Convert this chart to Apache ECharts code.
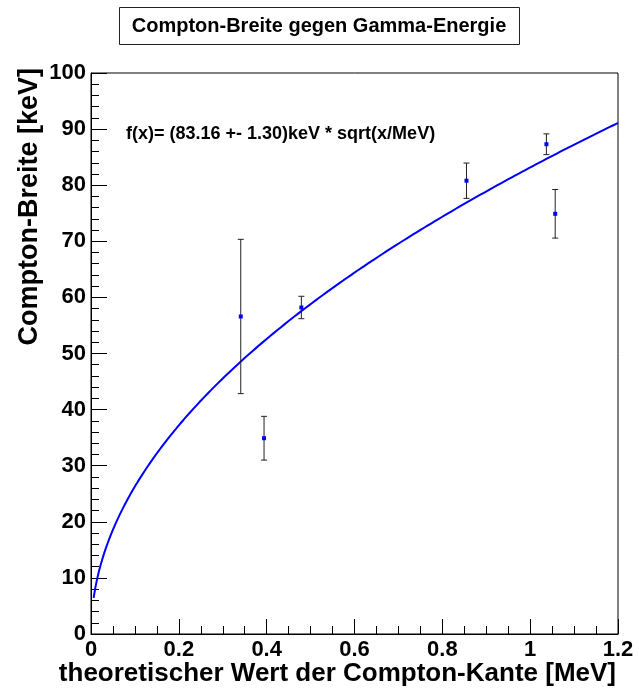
<!DOCTYPE html>
<html>
<head>
<meta charset="utf-8">
<script src="https://cdn.jsdelivr.net/npm/echarts@6/dist/echarts.min.js"></script>
<style>
  html, body { margin: 0; padding: 0; background: #fff; }
  #chart { width: 639px; height: 691px; }
</style>
</head>
<body>
<div id="chart"></div>
<script>
// Measured Compton widths versus the theoretical Compton edge energy
const edgeEnergy = [0.341, 0.394, 0.479, 0.855, 1.037, 1.057];   // MeV
const comptonWidth = [56.6, 34.9, 58.2, 80.8, 87.3, 74.9];        // keV
const widthError = [13.75, 3.9, 2.0, 3.15, 1.85, 4.33];           // keV

// Fit result: f(x) = A * sqrt(x/MeV)
const fitAmplitude = 83.16;
const fitAmplitudeError = 1.30;
const fitRange = [0.006, 1.2];

const xTicks = [0, 0.2, 0.4, 0.6, 0.8, 1, 1.2];
const yTicks = [0, 10, 20, 30, 40, 50, 60, 70, 80, 90, 100];

const FONT = '"Liberation Sans", Arial, Helvetica, sans-serif';

const points = edgeEnergy.map((x, i) => [x, comptonWidth[i], widthError[i]]);

const fitCurve = [];
const nSteps = 300;
for (let k = 0; k <= nSteps; k++) {
  const x = fitRange[0] + (fitRange[1] - fitRange[0]) * k / nSteps;
  fitCurve.push([x, fitAmplitude * Math.sqrt(x)]);
}

const grid = { left: 91, top: 73, width: 527, height: 561 };

const chart = echarts.init(document.getElementById('chart'), null, { renderer: 'canvas' });

chart.setOption({
  backgroundColor: '#fff',
  animation: false,
  grid: Object.assign({ show: true, borderColor: '#000', borderWidth: 1, backgroundColor: 'transparent' }, grid),
  xAxis: {
    type: 'value',
    min: xTicks[0],
    max: xTicks[xTicks.length - 1],
    interval: 0.2,
    axisLine: { show: true, onZero: false, lineStyle: { color: '#000', width: 1 } },
    axisTick: { show: true, inside: true, length: 15, lineStyle: { color: '#000', width: 1 } },
    minorTick: { show: true, splitNumber: 4, length: 8, lineStyle: { color: '#000', width: 1 } },
    splitLine: { show: false },
    minorSplitLine: { show: false },
    axisLabel: {
      show: true, margin: 5, color: '#000', fontFamily: FONT, fontWeight: 'bold', fontSize: 22,
      showMinLabel: true, showMaxLabel: true,
      formatter: v => String(Math.round(v * 10) / 10)
    }
  },
  yAxis: {
    type: 'value',
    min: yTicks[0],
    max: yTicks[yTicks.length - 1],
    interval: 10,
    axisLine: { show: true, onZero: false, lineStyle: { color: '#000', width: 1 } },
    axisTick: { show: true, inside: true, length: 16, lineStyle: { color: '#000', width: 1 } },
    minorTick: { show: true, splitNumber: 5, length: 8, lineStyle: { color: '#000', width: 1 } },
    splitLine: { show: false },
    minorSplitLine: { show: false },
    axisLabel: {
      show: true, margin: 5, color: '#000', fontFamily: FONT, fontWeight: 'bold', fontSize: 22,
      showMinLabel: true, showMaxLabel: true
    }
  },
  series: [
    {
      name: 'fit',
      type: 'line',
      data: fitCurve,
      showSymbol: false,
      smooth: false,
      lineStyle: { color: '#0000ff', width: 2 },
      z: 3
    },
    {
      name: 'measurements',
      type: 'custom',
      data: points,
      encode: { x: 0, y: 1 },
      z: 4,
      renderItem: function (params, api) {
        const x = api.value(0), y = api.value(1), e = api.value(2);
        const c = api.coord([x, y]);
        const top = api.coord([x, y + e]);
        const bot = api.coord([x, y - e]);
        const cap = 3;
        const stroke = { stroke: '#222', lineWidth: 1 };
        return {
          type: 'group',
          children: [
            { type: 'line', shape: { x1: c[0], y1: top[1], x2: c[0], y2: bot[1] }, style: stroke },
            { type: 'line', shape: { x1: c[0] - cap, y1: top[1], x2: c[0] + cap, y2: top[1] }, style: stroke },
            { type: 'line', shape: { x1: c[0] - cap, y1: bot[1], x2: c[0] + cap, y2: bot[1] }, style: stroke },
            { type: 'rect', shape: { x: c[0] - 2, y: c[1] - 2, width: 4, height: 4 }, style: { fill: '#0000ff' } }
          ]
        };
      }
    }
  ],
  graphic: [
    {
      type: 'rect', left: 119, top: 7, z: 10,
      shape: { width: 400, height: 37 },
      style: { fill: '#fff', stroke: '#222', lineWidth: 1 }
    },
    {
      type: 'text', z: 11, x: 319, y: 26,
      style: {
        text: 'Compton-Breite gegen Gamma-Energie',
        font: 'bold 20px ' + FONT, fill: '#000', align: 'center', verticalAlign: 'middle'
      }
    },
    {
      type: 'text', z: 11, x: 126, y: 134,
      style: {
        text: 'f(x)= (' + fitAmplitude.toFixed(2) + ' +- ' + fitAmplitudeError.toFixed(2) + ')keV * sqrt(x/MeV)',
        font: 'bold 18px ' + FONT, fill: '#000', align: 'left', verticalAlign: 'middle'
      }
    },
    {
      type: 'text', z: 11, x: 616, y: 674,
      style: {
        text: 'theoretischer Wert der Compton-Kante [MeV]',
        font: 'bold 26px ' + FONT, fill: '#000', align: 'right', verticalAlign: 'middle'
      }
    },
    {
      type: 'text', z: 11, x: 30, y: 68, rotation: Math.PI / 2,
      style: {
        text: 'Compton-Breite [keV]',
        font: 'bold 27px ' + FONT, fill: '#000', align: 'right', verticalAlign: 'middle'
      }
    }
  ]
});
</script>
</body>
</html>
